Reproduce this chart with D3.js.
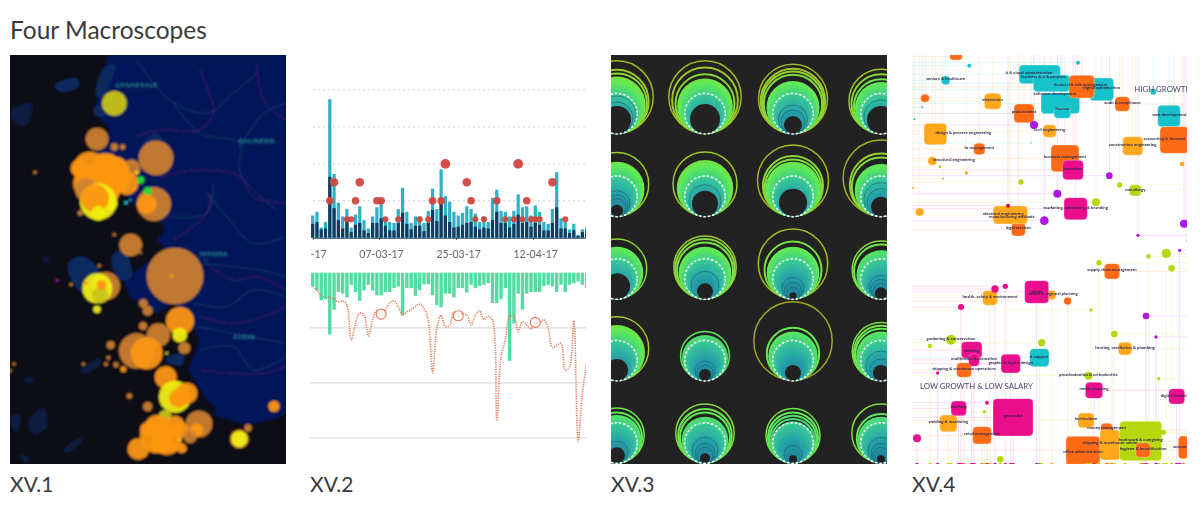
<!DOCTYPE html>
<html><head><meta charset="utf-8">
<script src="https://cdnjs.cloudflare.com/ajax/libs/d3/7.8.5/d3.min.js"></script>
<style>html,body{margin:0;background:#fff}svg{display:block}text{font-family:Lato,sans-serif}</style>
</head><body><svg id="c" width="1200" height="510"></svg>
<script>
const pageTitle="Four Macroscopes";
const captions=["XV.1","XV.2","XV.3","XV.4"];
// XV.1 earthquake map, [east, south, magnitude, class]
const quakeClass={o:"#d08230",b:"#fb9612",y:"#f0ee12",l:"#c9c31a",g:"#22e030",c:"#30d8e0",p:"#a020b0"};
const quakes=[[343,160,37,"l"],[343,126,3,"b"],[291,267,34,"o"],[343,291,11,"o"],[368,291,8,"o"],[468,324,52,"o"],
[462,462,51,"o"],[440,462,30,"b"],[395,355,27,"o"],[270,355,50,"b"],[320,355,45,"b"],[350,350,30,"b"],[240,355,28,"b"],[310,340,30,"b"],[360,380,30,"b"],[350,400,32,"b"],[340,370,50,"b"],[380,400,35,"b"],[270,400,50,"b"],[310,420,50,"b"],[300,390,55,"b"],[260,420,35,"o"],
[295,455,55,"y"],[330,460,22,"y"],[285,445,42,"b"],[295,490,22,"y"],[422,390,11,"g"],[443,423,12,"g"],[410,367,5,"y"],[378,458,5,"c"],[390,450,3,"c"],[241,489,8,"o"],[105,367,5,"o"],
[343,554,5,"o"],[392,585,34,"o"],[422,608,4,"o"],[525,678,85,"o"],[515,678,6,"b"],[298,647,5,"o"],[172,691,4,"p"],[213,703,5,"o"],
[318,708,42,"o"],[292,715,45,"y"],[300,735,24,"l"],[305,705,15,"b"],[258,700,6,"b"],[291,778,11,"y"],[430,760,13,"o"],[443,782,15,"o"],
[540,813,42,"b"],[539,855,22,"y"],[429,828,12,"o"],[475,855,35,"o"],[410,903,53,"o"],[440,910,48,"b"],[553,894,18,"o"],[332,885,12,"o"],
[325,923,6,"o"],[318,942,6,"o"],[348,944,8,"o"],[250,942,5,"o"],[42,942,5,"o"],[32,962,4,"o"],[370,958,9,"b"],[500,910,4,"y"],
[497,982,33,"b"],[525,1040,48,"y"],[560,1030,32,"b"],[535,1045,28,"b"],[388,1038,8,"o"],[443,1070,14,"o"],[822,1069,17,"b"],[744,1134,11,"o"],[718,1167,28,"o"],[718,1167,24,"y"],
[597,1122,40,"o"],[495,1100,20,"l"],[470,1160,50,"b"],[500,1170,45,"b"],[470,1130,35,"b"],[540,1140,25,"b"],[415,1197,32,"b"],[525,1125,28,"b"],[590,1140,20,"b"],[545,1195,15,"b"],[520,1190,15,"b"],[570,1160,20,"o"],[480,1180,30,"b"],[445,1140,25,"b"],[538,1168,4,"y"]];
const mainland=[[325,15],[300,90],[285,190],[330,235],[300,290],[270,330],[340,400],[390,450],[450,510],[480,510],[495,540],[470,570],[500,600],[440,640],[370,690],[390,740],[470,790],[520,760],[560,800],[600,870],[565,960],[590,1000],[620,1050],[650,1075],[640,1095],[740,1125],[830,1105],[857,1090],[857,15]];
const shallows=[[[310,55],[345,45],[335,85],[310,140],[290,140]],[[285,170],[315,165],[320,195],[285,195]],[[430,285],[465,250],[490,270],[470,285]],
[[165,105],[230,85],[235,110],[180,125]],[[205,640],[250,620],[300,670],[255,730],[220,700]],[[335,620],[370,600],[395,680],[360,690]],[[505,920],[550,915],[545,945],[500,935]],[[610,625],[625,625],[615,645]]];
const islets=[[[35,180],[95,160],[80,225],[40,215]],[[85,1110],[130,1075],[140,1130],[100,1155]],[[240,960],[300,925],[300,945],[255,970]],[[190,1200],[250,1160],[240,1180],[200,1210]],[[60,1215],[90,1225],[75,1240]],[[30,1100],[60,1095],[50,1150]],[[70,985],[105,985],[85,1000]],[[125,625],[145,620],[140,640]]];
const riverPaths=[[[410,30],[510,150],[620,190],[700,130],[770,70]],[[520,160],[600,250],[720,280],[720,370],[830,480]],[[720,290],[790,190],[857,160]],[[640,400],[620,490],[500,500]],[[620,430],[680,500],[760,580],[857,560]],[[610,640],[700,650],[780,660],[857,680]],[[580,760],[680,770],[760,720],[857,740]],[[590,830],[700,850],[857,880]],[[600,900],[700,890],[760,960],[857,920]]];
const borderPaths=[[[600,60],[640,190],[600,240],[480,240],[405,260]],[[770,40],[790,150],[857,210]],[[480,380],[600,360],[720,380],[760,440],[857,460]],[[630,430],[620,490],[520,570]],[[630,650],[700,690],[770,680],[857,720]],[[600,800],[700,820],[790,800],[857,770]],[[600,960],[690,970],[790,970],[857,950]]];
const placeNames=[["ÇANAKKALE",347,105],["BALIKESIR",717,272],["MANISA",600,611],["AYDIN",700,862]];
// XV.2 daily activity
const dayStart=Date.UTC(2017,1,19,12);
const tickDates=[Date.UTC(2017,1,17),Date.UTC(2017,2,7),Date.UTC(2017,2,25),Date.UTC(2017,3,12)];
const dailyTotal=[1.2,1.4,.55,.85,7.5,3.45,1.9,1.15,1.55,.55,1.25,1.7,.95,.5,1.15,1.65,1.95,1.05,.85,.8,1.55,2.7,1.4,.8,1.15,1.15,.8,1.45,2.65,1.55,3.7,2.25,1.95,1.4,1.2,1.35,1.7,1.55,1.3,.85,1.15,.85,2.15,2.6,1.45,1.4,1.15,1.45,2.35,1.65,1.7,1.2,1.75,1.4,.85,.75,1.55,3.55,1.05,.85,.45,.75,.15,.45,.6];
const dailyPart=[.75,.85,.45,.5,3.3,1.6,.95,.5,.85,.3,.7,.8,.4,.25,.8,.8,1.05,.65,.4,.4,.8,1.35,.75,.45,.65,.65,.35,.8,1.5,.9,1.95,1.2,.85,.55,.6,.7,.8,.85,.6,.45,.55,.5,.95,1.4,.8,.8,.55,.75,1.25,.8,.85,.6,.8,.7,.4,.4,.8,1.65,.5,.5,.25,.4,.1,.3,.4];
const redDays=[4,5,8,9,10,11,15,16,17,20,25,27,28,30,31,36,37,38,40,43,45,47,48,49,50,51,52,53,56,59];
const redLevels=[2,3,1,1,2,3,2,2,1,1,1,1,2,2,4,3,2,1,1,2,1,1,4,1,2,1,1,1,3,1];
const upperGrid=[2,4,6,8];
const lowerGrid=[100,200,300];
const hangBars=[25,32,50,48,112,67,35,38,45,22,35,51,32,22,32,41,41,35,35,28,25,77,28,28,42,32,21,21,41,59,63,38,38,45,28,28,36,22,28,24,22,19,55,55,48,28,160,92,38,67,38,35,35,35,24,22,25,35,22,35,22,19,16,22,28];
const dottedLine=[25,32,42,44,45,48,53,51,59,122,92,73,77,115,86,68,77,68,55,51,62,77,71,67,61,57,65,86,182,101,77,98,95,71,80,74,77,95,77,69,85,79,86,267,153,122,80,79,107,89,95,102,92,92,85,101,136,132,128,177,171,87,307,219,162];
const ringDays=[16,34,52];
// XV.3 rosettes, read row by row
const rosetteBottoms=[134,216.7,299.3,381,463.3];
const rosetteCols=[0,1,2,3];
const rosetteRings=[[[37,32.5,30.7],[37,33.7,30.3],[35.3,33,31.7,30],[32.8,30.3,27.8]],
[[32.5],[32.8],[36.3,30.8,29],[38.7,32,30]],
[[30.5],[32,30.5,28.8],[35.5,29.3],[29.6,27.8]],
[[32.5],[25.2],[40,27],[29.6,28,26.5]],
[[28,25.8],[30,27.6,25.8],[27.8,25.8,24.2,22.5],[30,25]]];
const rosetteSolid=[[28.7,27.8,26.5,26],[27.5,28.3,27.5,26.3],[26.3,26.3,26.3,24.5],[28,23,24.7,24.7],[24.2,23.3,21,23.3]];
const rosetteHole=[[14,15,9,14],[6,13,14,10],[13,8,3.5,6],[11,6,8,8],[8,5,4,4]];
const rosetteDark=[[[19,16],[],[14.5,12],[17]],[[13,11,9],[16],[],[17,14]],[[],[14],[11,8.5,6],[12,10,8]],[[],[10,8],[],[15,11]],[[11],[13,10,8],[9],[13,10,8]]];
// XV.4 labour-market squares, [category, x, y, w, h]
const nodeColor={r:"#ff6a13",t:"#17c3cb",a:"#ffa81f",m:"#ea0a8c",l:"#b6d80e",p:"#b012e6",k:"#c8104a"};
const squares=[["t",404,73,124,56],["t",440,100,110,50],["t",466,160,116,62],["t",472,190,50,30],["t",590,118,72,68],["r",530,110,76,68],["t",792,198,68,64],["t",122,91,26,26],
["r",153,20,38,20],["r",60,145,26,24],["r",357,190,60,56],["r",652,162,44,44],["r",223,297,34,34],["r",808,270,86,80],["r",480,325,84,80],["r",340,538,42,40],
["a",263,154,50,48],["a",91,252,68,64],["a",434,243,40,38],["a",82,333,26,26],["a",683,288,60,56],["a",316,495,104,54],["a",44,486,26,24],
["m",504,360,62,58],["m",512,476,70,66],["l",691,421,36,34],
["r",621,664,46,46],["r",177,960,44,44],["r",231,1156,56,52],["r",534,1201,102,84],["r",835,1192,30,68],["r",605,1140,36,40],
["a",255,744,44,44],["a",440,735,26,28],["a",660,896,40,38],["a",130,1120,52,50],["a",543,1111,48,44],["a",615,1185,60,90],
["m",395,726,72,68],["m",200,900,62,50],["m",207,930,32,38],["m",317,941,58,56],["m",567,1021,52,48],["m",815,1039,48,46],["m",161,1075,46,44],["m",324,1102,120,112],
["t",403,923,58,54],["l",707,1173,126,118],["r",714,1200,44,44],["l",550,977,26,24]];
const dots=[["t",193,47,6],["t",519,38,6],["t",745,125,9],["t",52,172,3],["t",28,208,3],["t",378,279,2],["a",831,342,7],["a",184,369,5],["a",114,386,3],["a",24,414,3],
["p",387,225,12],["p",613,377,10],["p",457,431,12],["p",418,512,13],["p",837,521,12],["p",699,556,5],["p",824,601,5],["p",846,574,2],
["l",348,396,8],["l",644,405,8],["l",573,457,12],["l",784,610,14],["l",730,619,7],["l",105,350,4],["k",309,467,6],
["r",488,753,11],["m",270,717,11],["m",301,709,8],["m",168,771,9],["m",246,1058,6],["m",36,1165,12],["m",98,969,5],
["l",775,1147,8],["l",138,869,15],["l",75,888,7],["l",410,878,11],["l",558,780,5],["l",628,852,10],["l",582,638,8],["l",800,655,10],["l",761,986,5],["l",286,1228,10],["l",238,1085,5],["p",723,798,10],["p",753,861,5]];
const jobLabels=[["seniors & healthcare",122,88],["it & cloud administration",372,70],["business & it & projects",415,80],["financial & risk management",527,106],["digital optimisation",590,115],["software development",450,133],["finance",472,176],["audit & compliance",652,160],["web development",793,196],["procurement",357,187],["electronics",263,151],["civil engineering",434,241],["design & process engineering",175,250],["hr management",223,295],["structural engineering",147,330],["construction engineering",683,285],["accounting & financial",778,268],["business management",480,321],["journalism",504,356],["marketing, advertising & branding",512,473],["metallurgy",691,420],["electrical engineering",295,492],["manufacturing methods",320,500],["legal services",340,535],
["supply chain management",621,661],["health, safety & environment",255,741],["urban & regional planning",445,733],["admin",395,725],["heating, ventilation & plumbing",660,893],["retailing",200,902],["multimedia & animation",207,928],["graphic & digital design",317,938],["it support",403,921],["gardening & conservation",138,867],["shipping & warehouse operations",177,956],["prosthodontics & orthodontics",550,974],["media planning",567,1018],["digital marketing",815,1037],["teaching",161,1071],["welding & machining",130,1117],["retail management",231,1152],["generalist",324,1098],["horticulture",543,1108],["money management",605,1135],["shipping & warehouse admin",615,1179],["food work & caregiving",707,1171],["hygiene & beautification",714,1197],["office administration",534,1205],["accounting",835,1190]];
const quadrantLabels=[["HIGH GROWTH",688,127],["LOW GROWTH & LOW SALARY",45,1016]];

const svg=d3.select("#c");
const defs=svg.append("defs");
[[.85,"b1"],[.45,"b2"],[.6,"b3"],[.65,"b4"]].forEach(([s,id])=>defs.append("filter").attr("id",id).attr("x",-.02).attr("y",-.02).attr("width",1.04).attr("height",1.04).append("feGaussianBlur").attr("stdDeviation",s));
const frames=[[10,55,276,409],[310,55,276,409],[611,55,276,409],[912,55,275,409]];
frames.forEach((f,i)=>defs.append("clipPath").attr("id","f"+i).append("rect").attr("x",f[0]).attr("y",f[1]).attr("width",f[2]).attr("height",f[3]));
const panel=(i,b)=>svg.append("g").attr("clip-path",`url(#f${i})`).append("g").attr("filter",`url(#${b})`);

svg.append("text").attr("x",10).attr("y",39).attr("font-size",24.5).attr("fill","#3a3a3a").text(pageTitle);
svg.selectAll("text.cap").data(captions).join("text").attr("class","cap").attr("x",(d,i)=>frames[i][0]).attr("y",492).attr("font-size",21).attr("fill","#3a3a3a").text(d=>d);

// ---- XV.1
{const x=d3.scaleLinear().domain([30,857]).range([10,285.7]),y=d3.scaleLinear().domain([15,1243]).range([55,464.3]),r=d3.scaleLinear().domain([0,3]).range([0,1]);
const g=panel(0,"b1");
g.append("rect").attr("x",5).attr("y",50).attr("width",286).attr("height",419).attr("fill","#0a0a16");
const closed=d3.line().x(d=>x(d[0])).y(d=>y(d[1])).curve(d3.curveCatmullRomClosed);
const open=d3.line().x(d=>x(d[0])).y(d=>y(d[1])).curve(d3.curveCatmullRom);
g.selectAll(".is").data(islets).join("path").attr("d",closed).attr("fill","#0a1a40");
g.append("path").attr("d",d3.line().x(d=>x(d[0])).y(d=>y(d[1])).curve(d3.curveLinear)(mainland)).attr("fill","#051858");
g.selectAll(".sh").data(shallows).join("path").attr("d",closed).attr("fill","#0b2a60");
g.selectAll(".ri").data(riverPaths).join("path").attr("d",open).attr("fill","none").attr("stroke","#2a6080").attr("stroke-width",.8).attr("opacity",.6);
g.selectAll(".bo").data(borderPaths).join("path").attr("d",open).attr("fill","none").attr("stroke","#8a1a90").attr("stroke-width",.9).attr("stroke-dasharray","2 1.5").attr("opacity",.75);
g.selectAll(".pl").data(placeNames).join("text").attr("x",d=>x(d[1])).attr("y",d=>y(d[2])+2).attr("font-size",6).attr("letter-spacing",.7).attr("font-weight",700).attr("fill","#2c8a9c").text(d=>d[0]);
g.selectAll(".q").data(quakes).join("circle").attr("cx",d=>x(d[0])).attr("cy",d=>y(d[1])).attr("r",d=>r(d[2])).attr("fill",d=>quakeClass[d[3]]).attr("opacity",d=>d[3]=="o"?.92:.95);
}
// ---- XV.2
{const x=d3.scaleUtc().domain([dayStart,dayStart+64*864e5]).range([312.67,586.67]);
const yT=d3.scaleLinear().domain([0,8]).range([237.7,90]),yB=d3.scaleLinear().domain([0,300]).range([272.7,438]);
const day=i=>x(dayStart+i*864e5),bw=3.2;
const g=panel(1,"b2");
g.append("g").selectAll("line").data(upperGrid).join("line").attr("x1",313).attr("x2",585).attr("y1",yT).attr("y2",yT).attr("stroke","#cfcfcf").attr("stroke-width",1).attr("stroke-dasharray","2 3");
g.append("g").selectAll("rect").data(dailyTotal).join("rect").attr("x",(d,i)=>day(i)-bw/2).attr("width",bw).attr("y",d=>yT(d)).attr("height",d=>yT(0)-yT(d)).attr("fill","#2fb0c6");
g.append("g").selectAll("rect").data(dailyPart).join("rect").attr("x",(d,i)=>day(i)-bw/2).attr("width",bw).attr("y",d=>yT(d)).attr("height",d=>yT(0)-yT(d)).attr("fill","#123a60");
g.append("g").selectAll("circle").data(redDays).join("circle").attr("cx",d=>day(d)).attr("cy",(d,i)=>yT(redLevels[i])).attr("r",(d,i)=>[0,3.1,3.8,4.3,4.9][redLevels[i]]).attr("fill","#d0473f").attr("opacity",.95);
const ax=g.append("g").attr("transform",`translate(0,${yT(0)})`).call(d3.axisBottom(x).tickValues(tickDates).tickSize(2).tickPadding(11).tickFormat(d3.utcFormat("%d-%m-%y")));
ax.select(".domain").attr("stroke","#153a5e");
ax.selectAll("line").attr("stroke","#333");
ax.selectAll("text").attr("font-size",10.5).attr("fill","#666").attr("dx",2).attr("font-family","Lato,sans-serif");
g.append("g").selectAll("line").data(lowerGrid).join("line").attr("x1",310).attr("x2",586).attr("y1",yB).attr("y2",yB).attr("stroke","#dcdcdc").attr("stroke-width",1.2);
g.append("g").selectAll("rect").data(hangBars).join("rect").attr("x",(d,i)=>day(i)-1.7).attr("width",3.4).attr("y",yB(0)).attr("height",d=>yB(d)-yB(0)).attr("fill","#52dca4");
g.append("path").attr("d",d3.line().x((d,i)=>day(i)).y(d=>yB(d)).curve(d3.curveCatmullRom)(dottedLine)).attr("fill","none").attr("stroke","#e8795a").attr("stroke-width",1.6).attr("stroke-dasharray","1.2 1.2");
g.append("g").selectAll("circle").data(ringDays).join("circle").attr("cx",d=>day(d)).attr("cy",d=>yB(dottedLine[d])-1).attr("r",5).attr("fill","#fff").attr("fill-opacity",.7).attr("stroke","#e8795a").attr("stroke-width",1.1);
}
// ---- XV.3
{const x=d3.scaleLinear().domain([0,3]).range([617,881]);
const tint=d3.scaleLinear().domain([3,12,19,22,26,29,33,40]).range(["#1e7f9a","#27a0a8","#35c49a","#48d878","#62ea55","#78e040","#a0c828","#a0a820"]);
const g=panel(2,"b3");const bg="#212121";
g.append("rect").attr("x",606).attr("y",50).attr("width",286).attr("height",419).attr("fill",bg);
rosetteBottoms.forEach((bot,row)=>rosetteCols.forEach(col=>{
 const c=g.append("g"),cx=x(col),cy=r=>bot-r;
 c.selectAll(".o").data(rosetteRings[row][col]).join("circle").attr("cx",cx).attr("cy",cy).attr("r",d=>d-.8).attr("fill","none").attr("stroke",d=>tint(d)).attr("stroke-width",(d,i)=>i==0?1.5:2);
 const h=rosetteHole[row][col],s=rosetteSolid[row][col];
 c.selectAll(".s").data(d3.range(s,h,-.8)).join("circle").attr("cx",cx).attr("cy",cy).attr("r",d=>d).attr("fill",d=>tint(d));
 c.selectAll(".d").data(rosetteDark[row][col]).join("circle").attr("cx",cx).attr("cy",cy).attr("r",d=>d).attr("fill","none").attr("stroke","#1a6a78").attr("stroke-opacity",.7).attr("stroke-width",1);
 c.append("circle").attr("cx",cx).attr("cy",cy(h)).attr("r",h).attr("fill",bg);
 c.append("circle").attr("cx",cx).attr("cy",cy(20.3)).attr("r",20.3).attr("fill","none").attr("stroke","#f2fbf2").attr("stroke-width",1.6).attr("stroke-dasharray","2.6 1.8");
}));
}
// ---- XV.4
{const x=d3.scaleLinear().domain([0,885]).range([905,1200]),y=d3.scaleLinear().domain([0,1260]).range([50,470]),u=d3.scaleLinear().domain([0,3]).range([0,1]);
const g=panel(3,"b4");
const guide=[...squares.map(d=>[d[0],d[1],d[2]]),...dots.map(d=>[d[0],d[1],d[2]])];
const hx=d=>d[1]<(d[2]<600?640:560)?20:848;
const vy=d=>d[2]<600?15:1242;
g.append("g").selectAll("line").data(guide).join("line").attr("x1",d=>x(d[1])).attr("x2",d=>x(hx(d))).attr("y1",d=>y(d[2])).attr("y2",d=>y(d[2])).attr("stroke",d=>nodeColor[d[0]]).attr("stroke-opacity",.13).attr("stroke-width",1);
g.append("g").selectAll("line").data(guide).join("line").attr("x1",d=>x(d[1])).attr("x2",d=>x(d[1])).attr("y1",d=>y(d[2])).attr("y2",d=>y(vy(d))).attr("stroke",d=>nodeColor[d[0]]).attr("stroke-opacity",.14).attr("stroke-width",1);
g.append("g").selectAll("rect").data(squares).join("rect").attr("x",d=>x(d[1])-u(d[3])/2).attr("y",d=>y(d[2])-u(d[4])/2).attr("width",d=>u(d[3])).attr("height",d=>u(d[4])).attr("rx",4).attr("fill",d=>nodeColor[d[0]]).attr("stroke","#fff").attr("stroke-opacity",.5).attr("stroke-width",.6);
g.append("g").selectAll("circle").data(dots).join("circle").attr("cx",d=>x(d[1])).attr("cy",d=>y(d[2])).attr("r",d=>u(d[3])).attr("fill",d=>nodeColor[d[0]]);
g.append("g").selectAll("rect").data(guide.filter(d=>d[2]>600)).join("rect").attr("x",d=>x(d[1])-1.5).attr("y",y(1242)-1).attr("width",3).attr("height",1.6).attr("fill",d=>nodeColor[d[0]]);
g.append("g").selectAll("text").data(jobLabels).join("text").attr("x",d=>x(d[1])).attr("y",d=>y(d[2])+1).attr("text-anchor","middle").attr("font-size",4.3).attr("font-weight",700).attr("fill","#2e2a50").text(d=>d[0]);
g.append("g").selectAll("text").data(quadrantLabels).join("text").attr("x",d=>x(d[1])).attr("y",d=>y(d[2])).attr("font-size",7.8).attr("fill","#4a4668").text(d=>d[0]);
}
</script></body></html>
